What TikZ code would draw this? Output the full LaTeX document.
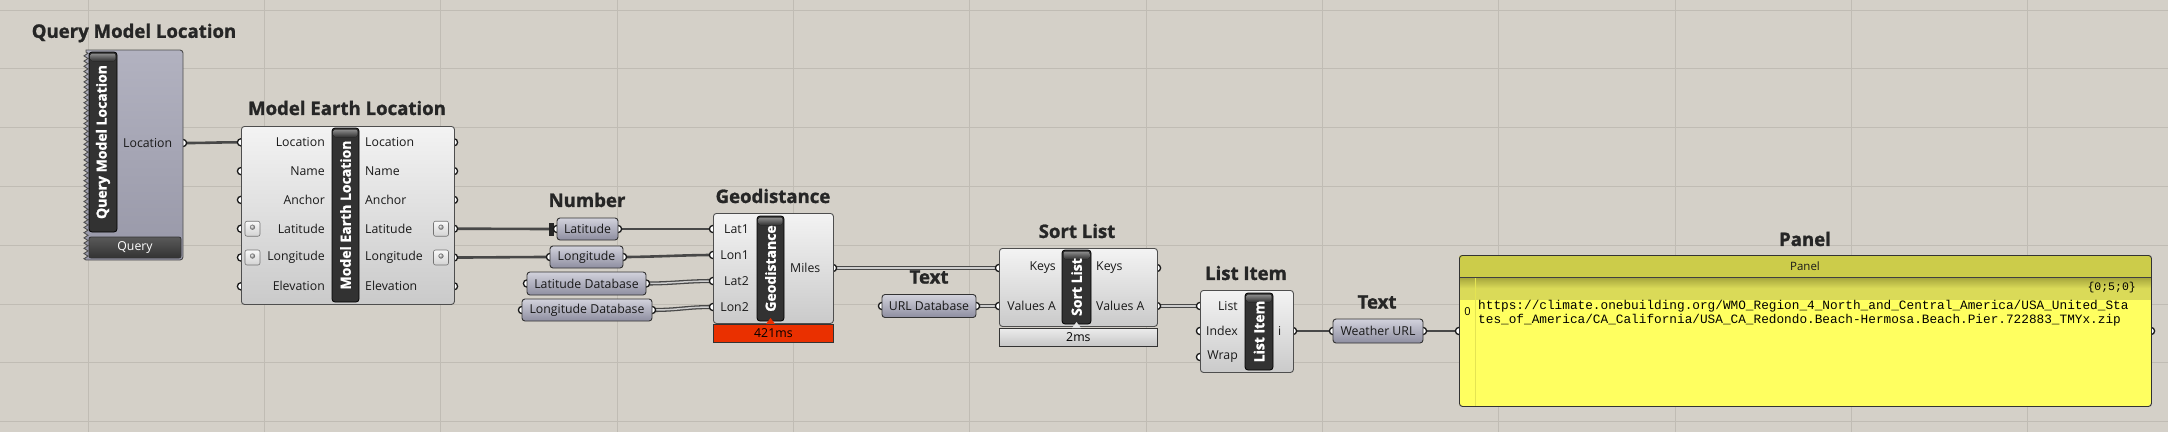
\documentclass[tikz,border=0pt]{standalone}
\usepackage{fontspec}
\setmainfont{Open Sans}
\setmonofont{Liberation Mono}
\newfontfamily\ttlfont{Open Sans}[BoldFeatures={FakeBold=1.3}]
\usetikzlibrary{decorations.pathmorphing}
\definecolor{bg}{RGB}{212,208,200}
\definecolor{gridc}{RGB}{192,188,180}
\definecolor{wirec}{RGB}{72,72,72}
\definecolor{wirelt}{RGB}{205,205,205}
\definecolor{boxtop}{RGB}{243,243,243}
\definecolor{boxbot}{RGB}{202,202,202}
\definecolor{boxline}{RGB}{78,78,78}
\definecolor{bardark}{RGB}{50,50,50}
\definecolor{bartop}{RGB}{140,140,140}
\definecolor{partop}{RGB}{210,210,220}
\definecolor{parbot}{RGB}{142,142,160}
\definecolor{qmltop}{RGB}{178,178,192}
\definecolor{qmlbot}{RGB}{152,152,168}
\definecolor{titlec}{RGB}{38,38,38}
\definecolor{redbar}{RGB}{234,48,0}
\definecolor{pnlhead}{RGB}{204,204,74}
\definecolor{pnlband}{RGB}{218,218,88}
\definecolor{pnlbody}{RGB}{255,255,96}
\definecolor{pnlline}{RGB}{228,228,82}
\newcommand\gwire[3]{\draw[#1] (#2) .. controls +(28,0) and +(-28,0) .. (#3);}
\newcommand\gport[1]{\draw[portst] (#1) circle[radius=3.6pt];}
\newcommand\gtoggle[3]{%
  \node[togst] (#1) at (#2,#3) {};
  \shade[ball color=gray!55] ({#2},{#3-1.5}) circle[radius=2.6pt];}
\newcommand\gbar[6]{%
  \draw[fill=bardark, draw=black, line width=0.8pt, rounded corners=3pt] (#1,#2) rectangle (#3,#4);
  \fill[top color=bartop, bottom color=bardark, rounded corners=2pt] ({#1+1.5},{#2+1.5}) rectangle ({#3-1.5},{#2+9});
  \node[bartxt] (#6) at ({(#1+#3)/2},{(#2+#4)/2}) {#5};}
\tikzset{
  wire/.style={line width=2.6pt, draw=wirec},
  lwire/.style={draw=wirec, line width=1.3pt, double=wirelt, double distance=1.5pt},
  portst/.style={draw=black!90, fill=white, line width=1.3pt},
  compbox/.style={draw=boxline, line width=0.9pt, rounded corners=3pt, top color=boxtop, bottom color=boxbot, anchor=north west, inner sep=0pt},
  parbox/.style={draw=black!80, line width=0.9pt, rounded corners=3pt, top color=partop, bottom color=parbot, inner sep=0pt, font=\fontsize{12.3}{12}\selectfont, text=black!90},
  ttl/.style={font=\ttlfont\bfseries\fontsize{18.6}{18.6}\selectfont, text=titlec, inner sep=0pt},
  lbl/.style={font=\fontsize{12.3}{12}\selectfont, text=black!90, inner sep=0pt},
  bartxt/.style={font=\ttlfont\bfseries\fontsize{14}{14}\selectfont, text=white, rotate=90, inner sep=0pt},
  togst/.style={draw=black!55, line width=0.6pt, rounded corners=2pt, top color=gray!5, bottom color=gray!35, minimum size=15pt, inner sep=0pt},
  stbar/.style={draw=black!80, line width=0.8pt, anchor=north west, inner sep=0pt, font=\fontsize{12.3}{12}\selectfont},
  mono/.style={font=\ttfamily\fontsize{12.75}{13}\selectfont, inner sep=0pt, anchor=base west},
}
\begin{document}
\begin{tikzpicture}[x=1pt,y=-1pt]
\useasboundingbox (0,0) rectangle (2168,432);
\fill[bg] (0,0) rectangle (2168,432);
% grid
\foreach \k in {0,...,11} \draw[gridc, line width=0.9pt] ({88+176.35*\k},0) -- ({88+176.35*\k},432);
\foreach \k in {0,...,7} \draw[gridc, line width=0.9pt] (0,{10+58.8*\k}) -- (2168,{10+58.8*\k});

% ---------- port coordinates
\coordinate (qml-o1) at (183,143);
\foreach \y [count=\i] in {142.3,171.1,199.9,228.7,257.5,286.3} {
  \coordinate (mel-i\i) at (241,\y);
  \coordinate (mel-o\i) at (454,\y);
}
\coordinate (nlat-i) at (557,229);   \coordinate (nlat-o) at (618,229);
\coordinate (nlon-i) at (550,257);   \coordinate (nlon-o) at (623,257);
\coordinate (latdb-i) at (527,283.5); \coordinate (latdb-o) at (646,283.5);
\coordinate (londb-i) at (522,310);  \coordinate (londb-o) at (652,310);
\foreach \y [count=\i] in {229,255,281,307} \coordinate (geo-i\i) at (713,\y);
\coordinate (geo-o1) at (833,268);
\coordinate (url-i) at (882,306);  \coordinate (url-o) at (976,306);
\coordinate (sort-i1) at (999,268); \coordinate (sort-i2) at (999,306);
\coordinate (sort-o1) at (1157,268); \coordinate (sort-o2) at (1157,306);
\foreach \y [count=\i] in {306,331,357} \coordinate (li-i\i) at (1200,\y);
\coordinate (li-o1) at (1293,331);
\coordinate (wurl-i) at (1333,331); \coordinate (wurl-o) at (1423,331);
\coordinate (pnl-i) at (1459,331); \coordinate (pnl-o) at (2151,331);

% ---------- wires
\gwire{wire}{qml-o1}{mel-i1}
\gwire{wire}{mel-o4}{nlat-i}
\gwire{wire}{mel-o5}{nlon-i}
\gwire{wire}{nlat-o}{geo-i1}
\gwire{wire}{nlon-o}{geo-i2}
\gwire{lwire}{latdb-o}{geo-i3}
\gwire{lwire}{londb-o}{geo-i4}
\gwire{lwire}{geo-o1}{sort-i1}
\gwire{lwire}{url-o}{sort-i2}
\gwire{lwire}{sort-o2}{li-i1}
\gwire{wire}{li-o1}{wurl-i}
\gwire{wire}{wurl-o}{pnl-i}
\fill[black!85] (549,222.5) rectangle (553.5,235.5);

% ---------- ports
\foreach \p in {qml-o1,mel-i1,mel-i2,mel-i3,mel-i4,mel-i5,mel-i6,mel-o1,mel-o2,mel-o3,mel-o4,mel-o5,mel-o6,
  nlat-i,nlat-o,nlon-i,nlon-o,latdb-i,latdb-o,londb-i,londb-o,geo-i1,geo-i2,geo-i3,geo-i4,geo-o1,
  url-i,url-o,sort-i1,sort-i2,sort-o1,sort-o2,li-i1,li-i2,li-i3,li-o1,wurl-i,wurl-o,pnl-i,pnl-o}
  {\gport{\p}}

% ---------- Query Model Location
\node[ttl] (qml-t) at (134,33) {Query Model Location};
\path[draw=boxline, line width=0.9pt, top color=qmltop, bottom color=qmlbot]
  (86,260) decorate[decoration={zigzag, segment length=5.2pt, amplitude=2pt}] {-- (86,50)}
  [rounded corners=3pt] -- (183,50) -- (183,260) [sharp corners] -- cycle;
\gbar{89}{52}{117}{232}{Query Model Location}{qml-bt}
\node[lbl, anchor=west] (qml-l1) at (123,143) {Location};
\node[draw=black!80, line width=0.8pt, rounded corners=2pt, top color=black!65, bottom color=black!80,
  minimum width=92pt, minimum height=21pt, inner sep=0pt, text=white, font=\fontsize{12.3}{12}\selectfont]
  (qml-btn) at (135,247.5) {Query};

% ---------- Model Earth Location
\node[ttl] (mel-t) at (347,108) {Model Earth Location};
\node[compbox, minimum width=213pt, minimum height=178pt] (mel) at (241,126) {};
\gbar{332}{128}{359}{302}{Model Earth Location}{mel-bt}
\foreach \y/\t [count=\i] in {142.3/Location,171.1/Name,199.9/Anchor,228.7/Latitude,257.5/Longitude,286.3/Elevation} {
  \node[lbl, anchor=east] (mel-il\i) at (325,\y) {\t};
  \node[lbl, anchor=west] (mel-ol\i) at (365,\y) {\t};
}
\gtoggle{mel-ti1}{252.5}{228.7}
\gtoggle{mel-ti2}{252.5}{257.5}
\gtoggle{mel-to1}{441}{228.7}
\gtoggle{mel-to2}{441}{257.5}

% ---------- Number params
\node[ttl] (num-t) at (587,200) {Number};
\node[parbox, minimum width=61pt, minimum height=22pt] (nlat) at (587.5,229) {Latitude};
\node[parbox, minimum width=73pt, minimum height=22pt] (nlon) at (586.5,257) {Longitude};
\node[parbox, minimum width=119pt, minimum height=23pt] (latdb) at (586.5,283.5) {Latitude Database};
\node[parbox, minimum width=130pt, minimum height=22pt] (londb) at (587,310) {Longitude Database};

% ---------- Geodistance
\node[ttl] (geo-t) at (773,196) {Geodistance};
\node[compbox, minimum width=120pt, minimum height=110pt] (geo) at (713,213) {};
\node[stbar, fill=redbar, minimum width=120pt, minimum height=18pt] (geo-st) at (713,324) {421ms};
\gbar{757}{216}{784}{321}{Geodistance}{geo-bt}
\fill[redbar] (766,324) -- (770.5,318) -- (775,324) -- cycle;
\foreach \y/\t [count=\i] in {229/Lat1,255/Lon1,281/Lat2,307/Lon2}
  \node[lbl, anchor=east] (geo-il\i) at (749,\y) {\t};
\node[lbl, anchor=west] (geo-ol1) at (790,268) {Miles};

% ---------- Text (URL Database)
\node[ttl] (txt1-t) at (929,277) {Text};
\node[parbox, minimum width=94pt, minimum height=23pt] (url) at (929,306) {URL Database};

% ---------- Sort List
\node[ttl] (sort-t) at (1077,231) {Sort List};
\node[compbox, minimum width=158pt, minimum height=78pt] (sort) at (999,248) {};
\node[stbar, top color=gray!15, bottom color=gray!45, minimum width=158pt, minimum height=18pt] (sort-st) at (999,328) {2ms};
\gbar{1062}{250}{1091}{324}{Sort List}{sort-bt}
\fill[gray!20] (1072,328) -- (1076.5,322) -- (1081,328) -- cycle;
\node[lbl, anchor=east] (sort-il1) at (1056,268) {Keys};
\node[lbl, anchor=east] (sort-il2) at (1056,306) {Values A};
\node[lbl, anchor=west] (sort-ol1) at (1096,268) {Keys};
\node[lbl, anchor=west] (sort-ol2) at (1096,306) {Values A};

% ---------- List Item
\node[ttl] (li-t) at (1246,273) {List Item};
\node[compbox, minimum width=93pt, minimum height=82pt] (li) at (1200,290) {};
\gbar{1245}{293}{1273}{370}{List Item}{li-bt}
\foreach \y/\t [count=\i] in {306/List,331/Index,357/Wrap}
  \node[lbl, anchor=east] (li-il\i) at (1238,\y) {\t};
\node[lbl, anchor=west] (li-ol1) at (1278,331) {i};

% ---------- Text (Weather URL)
\node[ttl] (txt2-t) at (1377,302) {Text};
\node[parbox, minimum width=90pt, minimum height=24pt] (wurl) at (1378,331) {Weather URL};

% ---------- Panel
\node[ttl] (pnl-t) at (1805,239) {Panel};
\begin{scope}
  \clip[rounded corners=3pt] (1459,255) rectangle (2151,406);
  \fill[pnlbody] (1459,255) rectangle (2151,406);
  \fill[pnlhead] (1459,255) rectangle (2151,277);
  \fill[top color=pnlhead!80!black, bottom color=pnlband, middle color=pnlband] (1459,277) rectangle (2151,299.5);
  \draw[pnlline, line width=0.8pt] (1475,277) -- (1475,406);
  \draw[black!75, line width=1pt] (1459,277) -- (2151,277);
\end{scope}
\node[draw=black!80, line width=0.9pt, rounded corners=3pt, anchor=north west, minimum width=692pt, minimum height=151pt, inner sep=0pt] (pnl) at (1459,255) {};
\node[lbl, font=\fontsize{11.5}{12}\selectfont] (pnl-h) at (1805,266) {Panel};
\node[inner sep=0pt, anchor=east, font=\ttfamily\fontsize{11.5}{12}\selectfont] (pnl-path) at (2136,288) {\{0;5;0\}};
\node[inner sep=0pt, font=\fontsize{11}{11}\selectfont] (pnl-idx) at (1467.5,312) {0};
\node[mono] (pnl-l1) at (1478,309) {https://climate.onebuilding.org/WMO\_Region\_4\_North\_and\_Central\_America/USA\_United\_Sta};
\node[mono] (pnl-l2) at (1478,323) {tes\_of\_America/CA\_California/USA\_CA\_Redondo.Beach-Hermosa.Beach.Pier.722883\_TMYx.zip};
\end{tikzpicture}
\end{document}
